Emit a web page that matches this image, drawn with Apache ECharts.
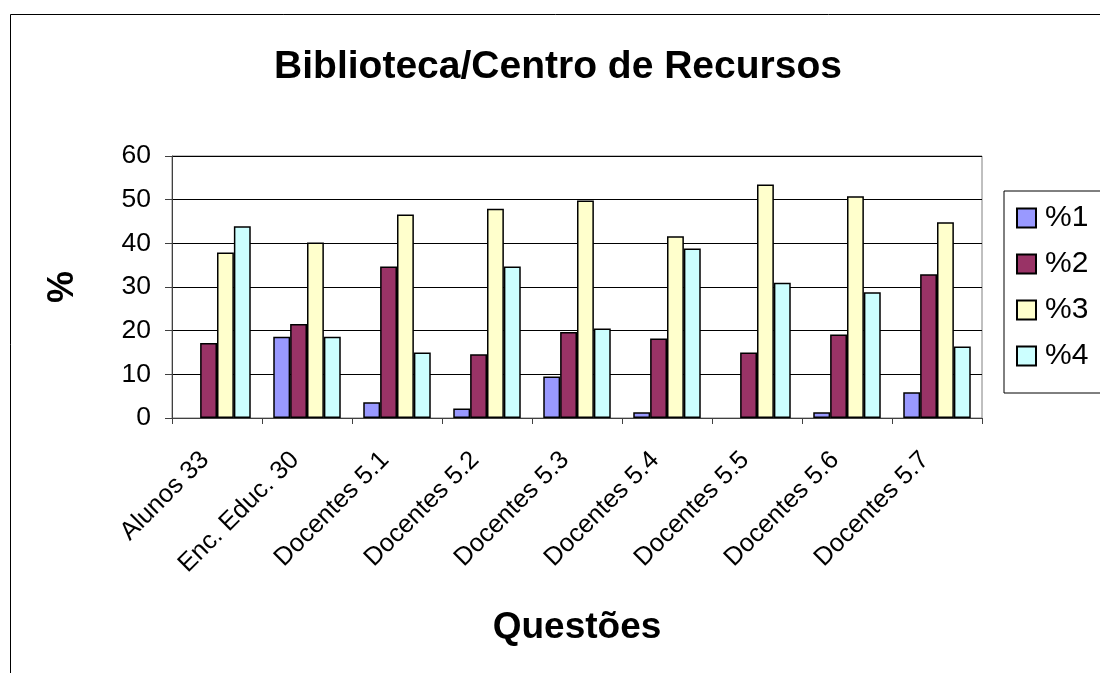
<!DOCTYPE html>
<html>
<head>
<meta charset="utf-8">
<script src="https://cdn.jsdelivr.net/npm/echarts@6/dist/echarts.min.js"></script>
<style>
html,body{margin:0;padding:0;background:#fff;}
#chart{width:1100px;height:673px;}
</style>
</head>
<body>
<div id="chart"></div>
<script>
const categories = ['Alunos 33', 'Enc. Educ. 30', 'Docentes 5.1', 'Docentes 5.2', 'Docentes 5.3', 'Docentes 5.4', 'Docentes 5.5', 'Docentes 5.6', 'Docentes 5.7'];
const pct1 = [0, 18.6, 3.6, 2.2, 9.5, 1.3, 0, 1.3, 5.9];
const pct2 = [17.2, 21.5, 34.7, 14.6, 19.7, 18.2, 15.0, 19.1, 32.9];
const pct3 = [37.9, 40.2, 46.6, 47.9, 49.8, 41.6, 53.5, 50.8, 44.8];
const pct4 = [43.9, 18.6, 15.0, 34.7, 20.5, 38.8, 31.0, 28.8, 16.4];
const seriesNames = ['%1', '%2', '%3', '%4'];
const yTicks = [0, 10, 20, 30, 40, 50, 60];

const FONT = 'Arial, "Liberation Sans", sans-serif';
const colors = ['#9999FF', '#993366', '#FFFFCC', '#CCFFFF'];
const dataSets = [pct1, pct2, pct3, pct4];

const chart = echarts.init(document.getElementById('chart'));
chart.setOption({
  animation: false,
  backgroundColor: '#fff',
  textStyle: { fontFamily: FONT },
  title: {
    text: 'Biblioteca/Centro de Recursos',
    left: 558, top: 48, padding: 0,
    textAlign: 'center',
    textStyle: { fontFamily: FONT, fontSize: 39, fontWeight: 'bold', color: '#000' }
  },
  graphic: [{
    type: 'rect', silent: true, z: -1,
    shape: { x: 10.5, y: 14.5, width: 1100, height: 700 },
    style: { fill: 'none', stroke: '#000', lineWidth: 1 }
  }],
  legend: {
    orient: 'vertical',
    left: 1004, top: 191,
    padding: [12, 80, 22, 12],
    borderColor: '#000', borderWidth: 1,
    itemWidth: 19, itemHeight: 19, itemGap: 16,
    icon: 'rect',
    data: seriesNames,
    textStyle: { fontFamily: FONT, fontSize: 30, color: '#000', lineHeight: 30, padding: [0, 0, 0, 4] }
  },
  grid: { left: 172, right: 118, top: 156, bottom: 255, show: true, borderColor: '#808080', borderWidth: 1 },
  xAxis: {
    type: 'category',
    data: categories,
    name: 'Questões',
    nameLocation: 'middle',
    nameGap: 191,
    nameTextStyle: { fontFamily: FONT, fontSize: 37, fontWeight: 'bold', color: '#000' },
    axisLine: { lineStyle: { color: '#404040', width: 1 } },
    axisTick: { show: true, length: 6, lineStyle: { color: '#404040' } },
    axisLabel: { rotate: 45, margin: 26, interval: 0, padding: [0, 17, 0, 0], fontFamily: FONT, fontSize: 25.5, color: '#000' }
  },
  yAxis: {
    type: 'value',
    min: 0, max: 60, interval: 10,
    name: '%',
    nameLocation: 'middle',
    nameRotate: 90,
    nameGap: 91,
    nameTextStyle: { fontFamily: FONT, fontSize: 36, fontWeight: 'bold', color: '#000' },
    axisLine: { show: true, lineStyle: { color: '#404040', width: 1 } },
    axisTick: { show: true, length: 7, lineStyle: { color: '#404040' } },
    axisLabel: { margin: 21, fontFamily: FONT, fontSize: 26.5, color: '#000',
      formatter: v => yTicks.includes(v) ? String(v) : '' },
    splitLine: { show: true, lineStyle: { color: '#000', width: 1 } }
  },
  series: dataSets.map((d, i) => ({
    name: seriesNames[i],
    type: 'bar',
    data: d.map(v => v === 0 ? '-' : v),
    barGap: '0%',
    barCategoryGap: '25%',
    itemStyle: { color: colors[i], borderColor: '#000', borderWidth: 1.5 }
  }))
});
</script>
</body>
</html>
